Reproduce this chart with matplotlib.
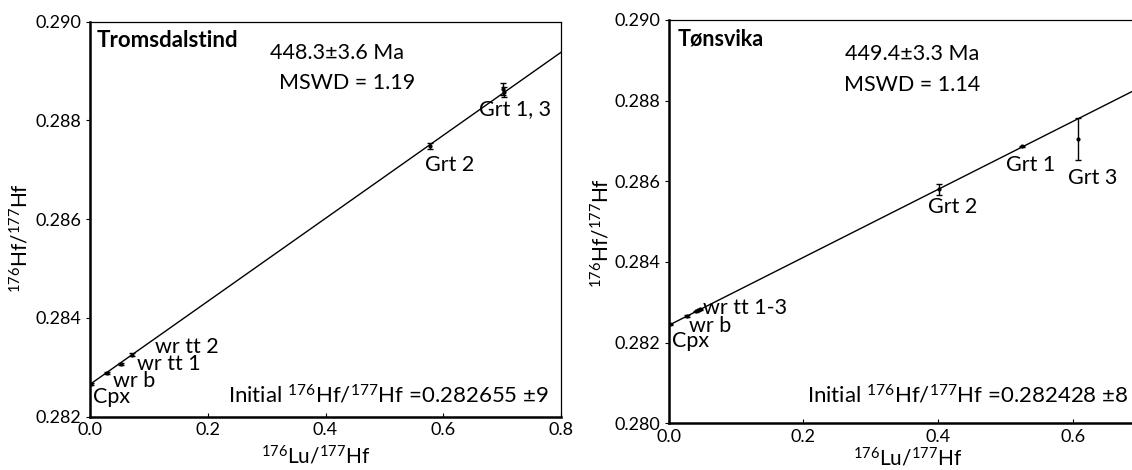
import numpy as np
import matplotlib.pyplot as plt

plt.rcParams['font.family'] = ['Lato', 'DejaVu Sans']
plt.rcParams['mathtext.fontset'] = 'custom'
plt.rcParams['mathtext.rm'] = 'Lato'
plt.rcParams['mathtext.it'] = 'Lato:italic'
plt.rcParams['mathtext.bf'] = 'Lato:bold'

# Tromsdalstind
t_names = ['Cpx', 'wr b', 'wr tt 1', 'wr tt 2', 'Grt 2', 'Grt 1', 'Grt 3']
t_lu = [0.001, 0.0284, 0.0526, 0.0719, 0.5772, 0.701, 0.703]
t_hf = [0.282662, 0.282885, 0.283074, 0.283256, 0.287489, 0.28863, 0.28858]
t_err = [0.00002, 0.00002, 0.00002, 0.00003, 0.00006, 0.00012, 0.00010]
t_line_x = [0.0, 0.8]
t_line_y = [0.282655, 0.289380]

# Tønsvika
s_names = ['Cpx', 'wr b', 'wr tt 1', 'wr tt 2', 'wr tt 3', 'Grt 2', 'Grt 1', 'Grt 3']
s_lu = [0.002, 0.0269, 0.041, 0.044, 0.047, 0.4015, 0.5243, 0.6074]
s_hf = [0.28245, 0.282655, 0.282775, 0.2828, 0.282822, 0.285804, 0.286865, 0.287047]
s_err = [0.00002, 0.00002, 0.00002, 0.00002, 0.00002, 0.000136, 0.00002, 0.00052]
s_line_x = [0.0, 0.7]
s_line_y = [0.282428, 0.288326]

# labels (text, x, y) in data coords
t_labels = [('Cpx', 0.0051, 0.282399), ('wr b', 0.0391, 0.282729),
            ('wr tt 1', 0.0793, 0.283067), ('wr tt 2', 0.1104, 0.283418),
            ('Grt 2', 0.569, 0.287098), ('Grt 1, 3', 0.6607, 0.288232)]
s_labels = [('Cpx', 0.0046, 0.282037), ('wr b', 0.0303, 0.282408),
            ('wr tt 1-3', 0.0511, 0.282847), ('Grt 2', 0.385, 0.285371),
            ('Grt 1', 0.501, 0.286411), ('Grt 3', 0.593, 0.286089)]

fig = plt.figure(figsize=(11.32, 4.70), dpi=100)
W, H = 1132, 470
ax1 = fig.add_axes([90/W, 1-416.7/H, 471/W, 395/H])
ax2 = fig.add_axes([668.6/W, 1-423.3/H, 471.4/W, 403.3/H])

ylab = r'$^{176}$Hf/$^{177}$Hf'
xlab = r'$^{176}$Lu/$^{177}$Hf'


def panel(ax, lu, hf, err, lx, ly, labels, title, age, mswd, init, ylim, xlim, yticks, xticks):
    ax.plot(lx, ly, color='black', lw=1.0)
    ax.errorbar(lu, hf, yerr=err, fmt='o', ms=2, color='black', ecolor='black',
                elinewidth=1.0, capsize=2.2, capthick=1.0)
    for txt, x, y in labels:
        ax.text(x, y, txt, fontsize=15.5, ha='left', va='center')
    ax.set_xlim(*xlim)
    ax.set_ylim(*ylim)
    ax.set_yticks(yticks)
    ax.set_xticks(xticks)
    ax.set_yticklabels([f'{v:.3f}' for v in yticks])
    ax.set_xticklabels([f'{v:.1f}' for v in xticks])
    ax.tick_params(axis='y', direction='out', length=3, labelsize=13, pad=3)
    ax.tick_params(axis='x', direction='in', length=3, labelsize=13, pad=4)
    for s in ['left', 'bottom']:
        ax.spines[s].set_linewidth(1.8)
    for s in ['top', 'right']:
        ax.spines[s].set_linewidth(0.9)
    ax.text(title[1], title[2], title[0], transform=ax.transAxes, fontsize=title[3],
            fontweight='bold', ha='left', va='center')
    ax.text(age[1], age[2], age[0], transform=ax.transAxes, fontsize=15.5,
            ha='center', va='center')
    ax.text(mswd[1], mswd[2], mswd[0], transform=ax.transAxes, fontsize=15.5,
            ha='center', va='center')
    ax.text(init[1], init[2], init[0], transform=ax.transAxes, fontsize=16,
            ha='left', va='center')


panel(ax1, t_lu, t_hf, t_err, t_line_x, t_line_y, t_labels,
      ('Tromsdalstind', 0.0149, 0.953, 16), ('448.3±3.6 Ma', 0.525, 0.921),
      ('MSWD = 1.19', 0.546, 0.845),
      (r'Initial $^{176}$Hf/$^{177}$Hf =0.282655 ±9', 0.293, 0.055),
      (0.282, 0.290), (0.0, 0.8), [0.282, 0.284, 0.286, 0.288, 0.290],
      [0.0, 0.2, 0.4, 0.6, 0.8])
panel(ax2, s_lu, s_hf, s_err, s_line_x, s_line_y, s_labels,
      ('Tønsvika', 0.020, 0.953, 15.5), ('449.4±3.3 Ma', 0.516, 0.916),
      ('MSWD = 1.14', 0.517, 0.839),
      (r'Initial $^{176}$Hf/$^{177}$Hf =0.282428 ±8', 0.293, 0.070),
      (0.280, 0.290), (0.0, 0.7), [0.280, 0.282, 0.284, 0.286, 0.288, 0.290],
      [0.0, 0.2, 0.4, 0.6])

ax1.set_ylabel(ylab, fontsize=15)
ax1.set_xlabel(xlab, fontsize=15)
ax1.yaxis.set_label_coords(-0.123, 0.452)
ax1.xaxis.set_label_coords(0.478, -0.072)
ax2.set_ylabel(ylab, fontsize=15)
ax2.set_xlabel(xlab, fontsize=15)
ax2.yaxis.set_label_coords(-0.118, 0.472)
ax2.xaxis.set_label_coords(0.507, -0.059)

fig.savefig('out.png', dpi=100)
